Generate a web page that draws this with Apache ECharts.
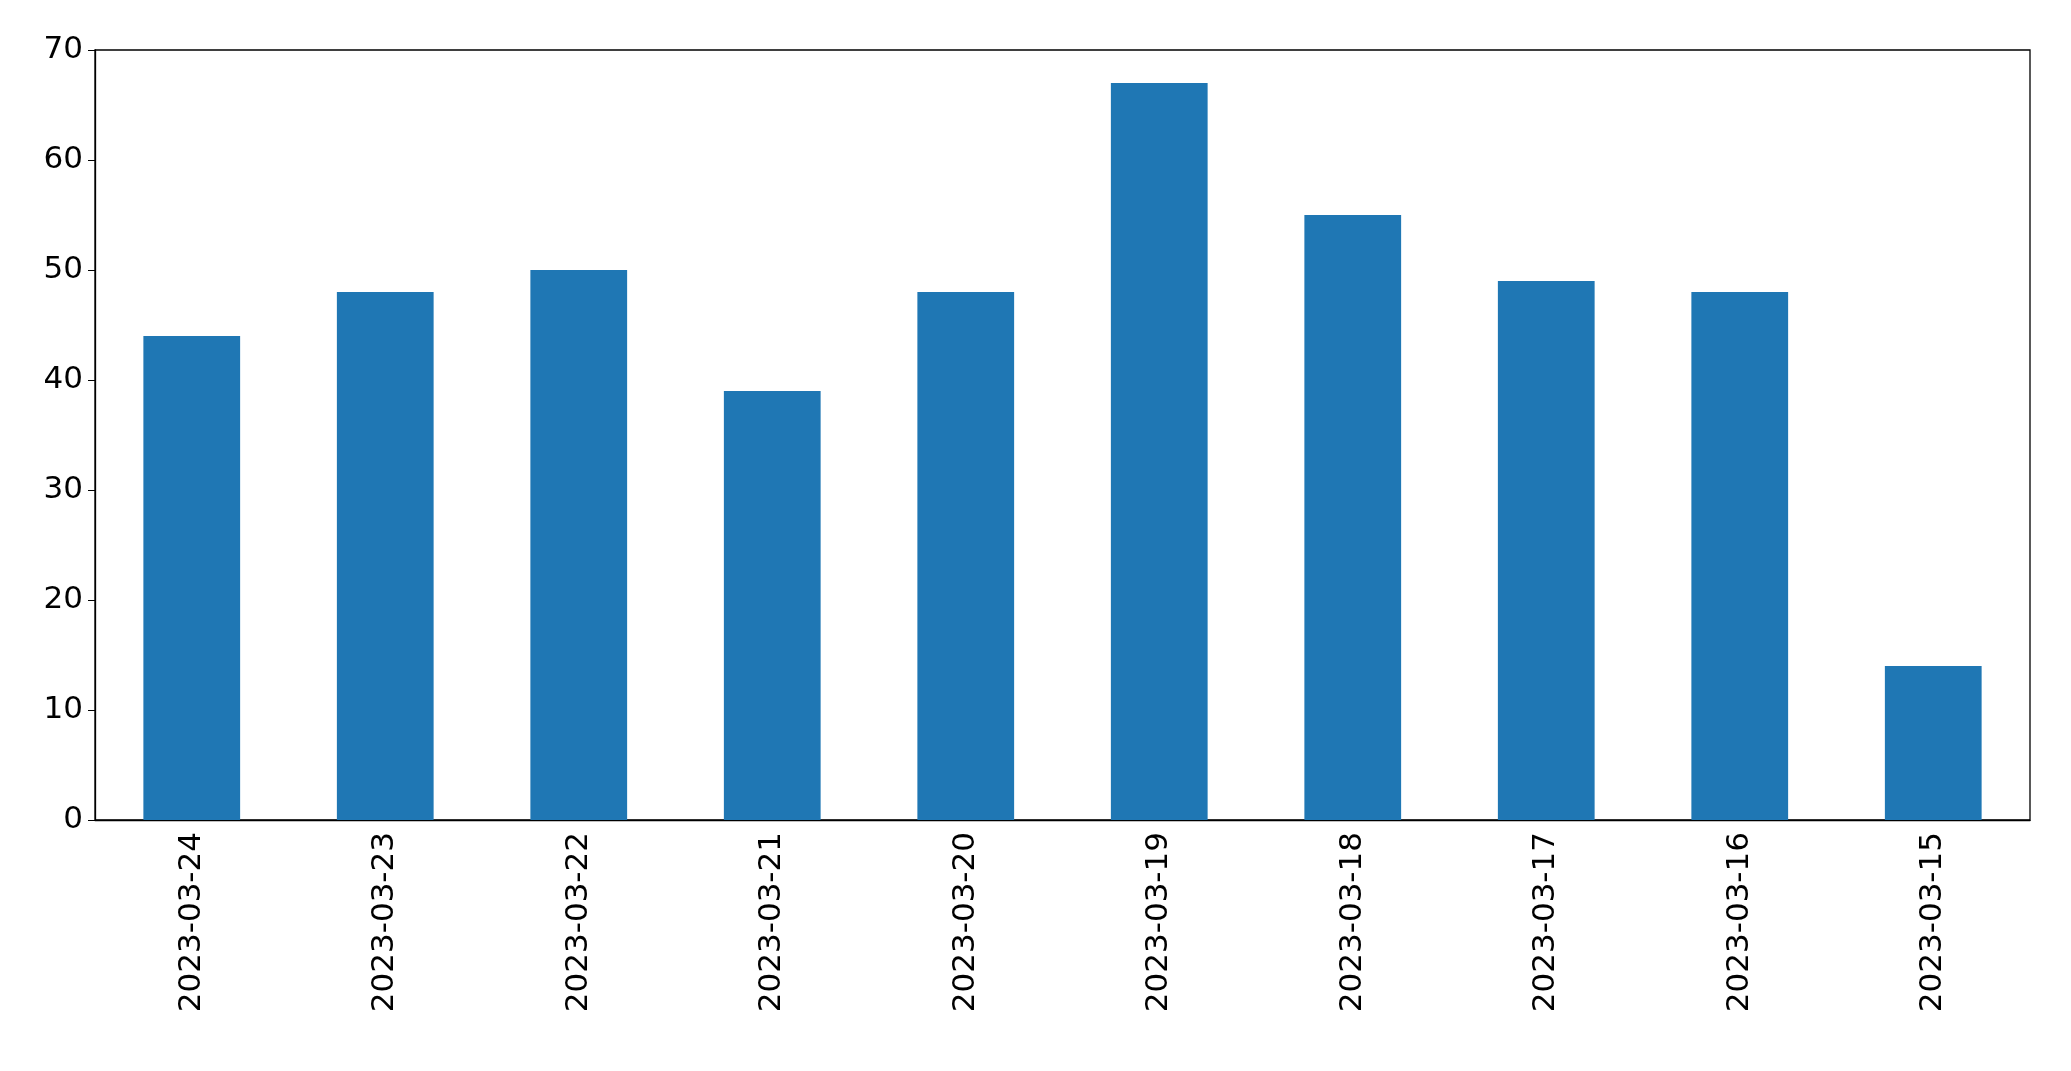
<!DOCTYPE html>
<html><head><meta charset="utf-8">
<script src="https://cdn.jsdelivr.net/npm/echarts@6/dist/echarts.min.js"></script>
<style>html,body{margin:0;padding:0;background:#fff}#c{width:2071px;height:1071px}</style>
</head><body><div id="c"></div>
<script>
const categories = ["2023-03-24","2023-03-23","2023-03-22","2023-03-21","2023-03-20","2023-03-19","2023-03-18","2023-03-17","2023-03-16","2023-03-15"];
const values = [44,48,50,39,48,67,55,49,48,14];
const chart = echarts.init(document.getElementById('c'));
chart.setOption({
  animation:false,
  grid:{left:95,right:41,top:50,bottom:251,show:true,borderColor:'#000',borderWidth:1.3},
  xAxis:{type:'category',data:categories,
    axisLine:{lineStyle:{color:'#000',width:1.3}},
    axisTick:{alignWithLabel:true,length:7,lineStyle:{color:'#000'}},
    axisLabel:{rotate:90,fontSize:31,color:'#000',fontFamily:'DejaVu Sans',margin:12}},
  yAxis:{type:'value',min:0,max:70,interval:10,splitLine:{show:false},
    axisLine:{show:true,lineStyle:{color:'#000',width:1.3}},
    axisTick:{show:true,length:7,lineStyle:{color:'#000'}},
    axisLabel:{fontSize:31,color:'#000',fontFamily:'DejaVu Sans',margin:12}},
  series:[{type:'bar',data:values,barCategoryGap:'50%',itemStyle:{color:'#1f77b4'}}]
});
</script></body></html>
